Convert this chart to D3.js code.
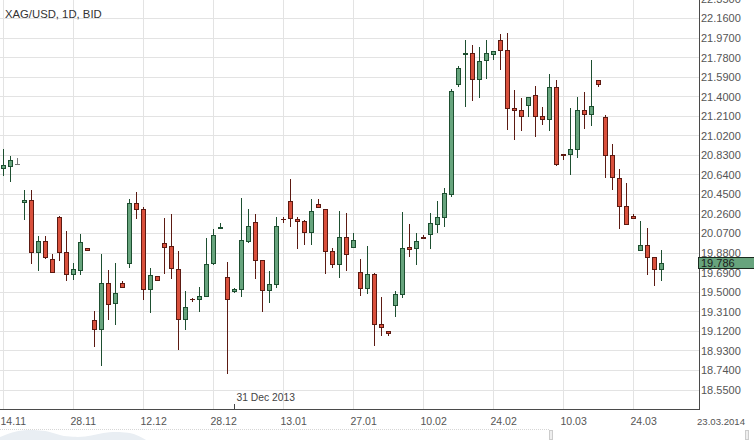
<!DOCTYPE html>
<html><head><meta charset="utf-8">
<script src="https://cdn.jsdelivr.net/npm/d3@7"></script>
<style>html,body{margin:0;padding:0;background:#fff;overflow:hidden}</style>
</head><body><svg id="c" width="754" height="440"></svg>
<script>
const title = "XAG/USD, 1D, BID";
const opens  = [20.70,20.72,20.75,20.37,20.40,19.88,20.00,19.82,20.23,19.89,19.67,19.71,19.93,19.23,19.13,19.59,19.39,19.59,19.77,20.37,
                20.31,19.52,19.66,19.98,19.95,19.73,19.23,19.43,19.42,19.45,19.77,20.11,19.65,19.50,19.52,19.99,20.18,19.81,19.51,19.57,
                20.21,20.39,20.21,20.19,20.08,20.36,20.31,19.90,19.76,20.04,19.93,19.70,19.53,19.68,19.19,19.12,19.37,19.47,19.94,19.92,
                20.04,20.06,20.15,20.22,20.45,21.51,21.81,21.83,21.56,21.75,21.81,21.95,21.85,21.29,21.27,21.31,21.42,21.21,21.17,21.49,
                20.84,20.83,20.88,21.27,21.22,21.56,21.20,20.83,20.61,20.34,20.24,19.90,19.96,19.84,19.72];
const highs  = [20.89,20.82,20.80,20.49,20.49,20.05,20.05,19.87,20.24,20.10,19.78,20.07,19.93,19.32,19.87,19.72,19.78,19.61,20.41,20.47,
                20.33,19.74,19.66,20.22,20.26,19.90,19.51,19.44,19.55,20.03,20.11,20.17,19.79,19.54,20.42,20.31,20.26,19.81,19.71,20.23,
                20.23,20.60,20.23,20.20,20.41,20.41,20.31,19.93,20.29,20.27,20.08,19.82,19.95,19.69,19.45,19.12,19.51,20.28,20.16,20.08,
                20.06,20.27,20.39,20.51,21.48,21.70,21.95,21.90,21.88,21.95,21.84,22.01,22.02,21.47,21.39,21.40,21.50,21.30,21.62,21.56,
                20.84,21.29,21.40,21.45,21.76,21.56,21.22,20.94,20.70,20.56,20.26,20.19,20.12,19.84,19.91];
const lows   = [20.63,20.57,20.75,20.20,19.77,19.71,19.82,19.69,19.80,19.61,19.62,19.67,19.90,18.97,18.78,19.23,19.18,19.54,19.74,20.21,
                19.42,19.30,19.61,19.68,19.63,18.94,19.13,19.41,19.31,19.45,19.76,20.11,18.71,19.49,19.45,19.98,19.63,19.31,19.40,19.54,
                20.17,20.13,19.92,19.96,19.96,20.32,19.68,19.74,19.64,19.71,19.93,19.46,19.48,18.98,19.07,19.07,19.26,19.44,19.84,19.76,
                20.02,19.92,20.08,20.13,20.43,21.49,21.30,21.36,21.39,21.57,21.76,21.66,21.08,20.98,21.07,21.20,21.01,21.13,21.07,20.73,
                20.79,20.64,20.80,21.09,21.12,21.49,20.61,20.49,20.11,20.15,20.21,19.90,19.67,19.56,19.61];
const closes = [20.74,20.79,20.75,20.40,19.88,20.00,19.83,19.69,19.88,19.67,19.73,19.99,19.90,19.13,19.59,19.38,19.49,19.54,20.37,20.30,
                19.52,19.67,19.61,19.93,19.73,19.23,19.36,19.42,19.46,19.77,20.06,20.13,19.42,19.53,20.01,20.14,19.80,19.51,19.58,20.14,
                20.20,20.21,20.18,20.08,20.29,20.32,19.89,19.76,20.04,19.86,20.01,19.53,19.68,19.18,19.15,19.09,19.48,19.93,19.91,20.00,
                20.02,20.17,20.23,20.46,21.46,21.68,21.83,21.56,21.75,21.83,21.84,21.84,21.28,21.26,21.20,21.40,21.20,21.17,21.49,20.74,
                20.82,20.89,21.27,21.22,21.31,21.51,20.82,20.61,20.33,20.15,20.21,19.96,19.83,19.72,19.786];
const yTickValues = [18.55,18.74,18.93,19.12,19.31,19.50,19.69,19.88,20.07,20.26,20.45,20.64,20.83,21.02,21.21,21.40,21.59,21.78,21.97,22.16,22.35];
const xTickIndex  = [0,10,20,30,40,50,60,70,80,90];
const xTickLabels = ["14.11","28.11","12.12","28.12","13.01","27.01","10.02","24.02","10.03","24.03"];
const yearMarkIndex = 33;
const yearMarkLabel = "31 Dec 2013";
const lastDateLabel = "23.03.2014";
const lastPrice = 19.786;
const navValues = [3,8,10,10,9,4,3,3,6,8,8,7,0];

const W = 754, H = 440;
const plotRight = 699, plotBottom = 409;
const font = "'Liberation Sans', Arial, sans-serif";
const svg = d3.select('#c');

const x = d3.scaleLinear().domain([0, opens.length - 1]).range([3.5, 3.5 + 7 * (opens.length - 1)]);
const y = d3.scaleLinear().domain([18.55, 22.35]).range([390, -1]);
const fl = v => Math.floor(v) + 0.5;

// grid
const grid = svg.append('g');
grid.selectAll('line.h').data(yTickValues).join('line')
  .attr('x1', 0).attr('x2', plotRight)
  .attr('y1', d => fl(y(d))).attr('y2', d => fl(y(d)))
  .attr('stroke', '#e3e3e3').attr('stroke-width', 1);
grid.selectAll('line.v').data(xTickIndex).join('line')
  .attr('x1', d => fl(x(d))).attr('x2', d => fl(x(d)))
  .attr('y1', 0).attr('y2', plotBottom)
  .attr('stroke', '#e3e3e3').attr('stroke-width', 1);

// candles
const idx = d3.range(opens.length);
const colorOf = i => closes[i] > opens[i] ? 'up' : (closes[i] < opens[i] ? 'down' : 'flat');
const stroke = {up: '#1d4f30', down: '#5c1a12', flat: '#777'};
const fill = {up: '#67a47d', down: '#d9503c', flat: '#777'};
const cg = svg.append('g');
cg.selectAll('line.w').data(idx).join('line')
  .attr('x1', i => fl(x(i))).attr('x2', i => fl(x(i)))
  .attr('y1', i => Math.round(y(highs[i]))).attr('y2', i => Math.round(y(lows[i])))
  .attr('stroke', i => stroke[colorOf(i)]).attr('stroke-width', 1);
cg.selectAll('rect.b').data(idx).join('rect')
  .attr('x', i => Math.floor(x(i)) - 1.5)
  .attr('width', 4)
  .attr('y', i => Math.round(y(Math.max(opens[i], closes[i]))) + 0.5)
  .attr('height', i => Math.max(0.01, Math.round(y(Math.min(opens[i], closes[i]))) - Math.round(y(Math.max(opens[i], closes[i]))) - 1))
  .attr('fill', i => fill[colorOf(i)])
  .attr('stroke', i => stroke[colorOf(i)]).attr('stroke-width', 1);

// axes lines
svg.append('line').attr('x1', fl(plotRight)).attr('x2', fl(plotRight)).attr('y1', 0).attr('y2', plotBottom + 1)
  .attr('stroke', '#4a4a4a');
svg.append('line').attr('x1', 0).attr('x2', plotRight + 1).attr('y1', fl(plotBottom)).attr('y2', fl(plotBottom))
  .attr('stroke', '#4a4a4a');

// y labels
svg.append('g').selectAll('text').data(yTickValues).join('text')
  .attr('x', 701).attr('y', d => y(d)).attr('dy', '0.35em')
  .attr('font-family', font).attr('font-size', 11).attr('fill', '#555')
  .text(d => d3.format('.4f')(d));

// x labels
svg.append('g').selectAll('text').data(xTickIndex).join('text')
  .attr('x', d => x(d) - 3).attr('y', 425)
  .attr('font-family', font).attr('font-size', 10.5).attr('fill', '#555')
  .text((d, k) => xTickLabels[k]);
svg.append('text').attr('x', 697).attr('y', 425)
  .attr('font-family', font).attr('font-size', 9.6).attr('fill', '#555').text(lastDateLabel);

// year mark
svg.append('line').attr('x1', fl(x(yearMarkIndex))).attr('x2', fl(x(yearMarkIndex)))
  .attr('y1', 404).attr('y2', plotBottom).attr('stroke', '#444');
svg.append('text').attr('x', x(yearMarkIndex) + 2).attr('y', 400.5)
  .attr('font-family', font).attr('font-size', 10.3).attr('fill', '#444').text(yearMarkLabel);

// title
svg.append('text').attr('x', 5).attr('y', 18)
  .attr('font-family', font).attr('font-size', 11.3).attr('fill', '#333').text(title);

// last price label
const py = y(lastPrice);
svg.append('rect').attr('x', 698.5).attr('y', Math.round(py - 5.5) + 0.5).attr('width', 56).attr('height', 11)
  .attr('fill', '#67a47d').attr('stroke', '#1a2a1f');
svg.append('text').attr('x', 701).attr('y', py + 0.5).attr('dy', '0.35em')
  .attr('font-family', font).attr('font-size', 11).attr('fill', '#1a1a1a').text(d3.format('.3f')(lastPrice));

// navigator
const nx = d3.scaleLinear().domain([0, navValues.length - 1]).range([0, 146]);
const ny = d3.scaleLinear().domain([0, 10]).range([440, 430]);
svg.append('path').datum(navValues)
  .attr('d', d3.area().x((d, i) => nx(i)).y0(440).y1(d => ny(d)).curve(d3.curveBasis))
  .attr('fill', '#e9eef3');
svg.append('line').attr('x1', 0).attr('x2', 550).attr('y1', 429.5).attr('y2', 429.5)
  .attr('stroke', '#d6d6d6').attr('stroke-dasharray', '1,1');
[549, 745].forEach(hx => {
  svg.append('rect').attr('x', hx + 0.5).attr('y', 430.5).attr('width', 3).attr('height', 9)
    .attr('fill', '#eee').attr('stroke', '#ccc');
});
</script></body></html>
